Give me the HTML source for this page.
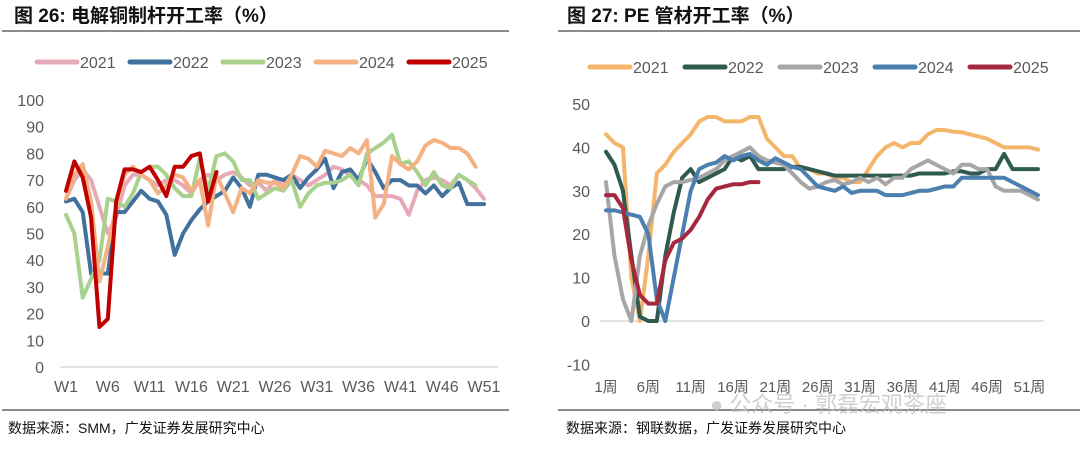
<!DOCTYPE html>
<html><head><meta charset="utf-8"><style>
body{margin:0;width:1080px;height:446px;background:#fff;overflow:hidden;font-family:"Liberation Sans","Noto Sans CJK SC",sans-serif}
svg text{font-family:"Liberation Sans","Noto Sans CJK SC",sans-serif}
</style></head><body>
<svg id="s" width="1080" height="446">
<text x="14" y="22" font-size="19" font-weight="bold" fill="#111">图 26:  电解铜制杆开工率（%）</text>
<line x1="2" y1="31" x2="509" y2="31" stroke="#444" stroke-width="1.2"/>
<text x="567" y="22" font-size="19" font-weight="bold" fill="#111">图 27:  PE 管材开工率（%）</text>
<line x1="558" y1="31" x2="1080" y2="31" stroke="#444" stroke-width="1.2"/>
<line x1="2" y1="410" x2="509" y2="410" stroke="#444" stroke-width="1.2"/>
<line x1="558" y1="410" x2="1080" y2="410" stroke="#444" stroke-width="1.2"/>
<text x="8" y="433" font-size="14" fill="#111">数据来源：SMM，广发证券发展研究中心</text>
<text x="566" y="433" font-size="14" fill="#111">数据来源：钢联数据，广发证券发展研究中心</text>
<text x="710" y="412" font-size="22" fill="#bbb" opacity="0.7">● 公众号 · 郭磊宏观茶座</text>
<g id="L"></g><g id="R"></g>
</svg>
<script>
const years=["2021","2022","2023","2024","2025"];
const leftCats=["W1","W6","W11","W16","W21","W26","W31","W36","W41","W46","W51"];
const leftTicks=[0,10,20,30,40,50,60,70,80,90,100];
const cu2021=[63,70,74,70,60,50,56,68,72,72,70,68,70,70,68,65,70,72,70,72,73,71,68,69,66,70,68,72,70,68,70,72,75,74,72,70,68,64,64,64,63,57,66,70,71,70,68,72,70,67,63];
const cu2022=[62,63,58,35,35,35,58,58,62,66,63,62,57,42,50,55,59,62,64,66,71,67,60,72,72,71,70,72,67,71,74,78,67,73,74,70,78,73,67,70,70,68,68,65,68,64,67,69,61,61,61];
const cu2023=[57,50,26,33,40,63,62,60,65,73,75,75,72,67,64,64,78,66,79,80,77,70,70,63,65,67,66,70,60,65,68,69,69,70,72,68,80,82,84,87,76,77,73,68,73,68,67,72,70,68];
const cu2024=[63,72,76,62,32,45,60,72,75,72,70,65,68,72,71,66,70,53,72,65,58,67,65,70,69,69,67,72,79,78,75,81,80,79,82,80,85,56,61,79,76,74,77,83,85,84,82,82,80,75];
const cu2025=[66,77,71,56,15,18,62,74,74,73,75,70,64,75,75,79,80,62,73];
const rightCats=["1周","6周","11周","16周","21周","26周","31周","36周","41周","46周","51周"];
const rightTicks=[-10,0,10,20,30,40,50];
const pe2021=[43,41,40,10,0,15,34,36,39,41,43,46,47,47,46,46,46,47,47,42,40,38,38,35,35,34,34,33,33,32,32,35,38,40,41,40,41,41,43,44,44,43.6,43.5,43,42.5,42,41,40,40,40,40,39.5];
const pe2022=[39,36,30,15,1,0,0,15,25,33,35,32,33,34,35,38,37,38,35,35,35,35,35.5,35.5,35,34.5,34,33.5,33.5,33.5,33.5,33.5,33.5,33.5,33.5,33.5,33.5,34,34,34,34,34.5,34.5,34,34,35,35,38.5,35,35,35,35];
const pe2023=[32,15,5,0,15,22,27,31,32,32,32.5,33,34,35,37,38,39,40,38,37,36.5,36,34,32,30.5,31,32,32.5,31.5,32,33,32,33,31.5,33,33,35,36,37,36,35,34,36,36,35,35,31,30,30,30,29,28];
const pe2024=[25.5,25.5,25,24.5,24,20,5,0,10,20,30,35,36,36.5,38,37,38,38.5,37,36,37.5,36.5,35.5,35,33,31,30.5,30,31,29.5,30,30,30,29,29,29,29.5,30,30,30.5,31,31,33,33,33,33,33,33,32,31,30,29];
const pe2025=[29,29,26,14,6,4,4,14,18,19,21,24,28,30.5,31,31.5,31.5,32,32];
const NS="http://www.w3.org/2000/svg";
function mk(p,t,a){const e=document.createElementNS(NS,t);for(const k in a)e.setAttribute(k,a[k]);p.appendChild(e);return e;}
function chart(g,cfg){
  const xs=i=>cfg.x0+i*cfg.dx, ys=v=>cfg.yz-(v)*cfg.ky;
  cfg.ticks.forEach(t=>{const e=mk(g,"text",{x:cfg.tx,y:ys(t)+6,"font-size":16,fill:"#595959","text-anchor":"end"});e.textContent=t;
    
    });
  mk(g,"line",{x1:cfg.x0-6,x2:cfg.x0+51*cfg.dx+6,y1:ys(0),y2:ys(0),stroke:"#d9d9d9","stroke-width":1.5});
  cfg.cats.forEach((c,i)=>{const e=mk(g,"text",{x:xs(i*5),y:cfg.labY,"font-size":cfg.cfs,fill:"#595959","text-anchor":"middle"});e.textContent=c;
    
    });
  cfg.series.forEach((s,k)=>{
    const pl=mk(g,"polyline",{points:s.map((v,i)=>xs(i)+","+ys(v)).join(" "),fill:"none",stroke:cfg.colors[k],"stroke-width":4,"stroke-linejoin":"round","stroke-linecap":"round"});
    
    
    const lx=cfg.lx+k*cfg.lstep;
    const sw=mk(g,"line",{x1:lx,x2:lx+40,y1:cfg.ly,y2:cfg.ly,stroke:cfg.colors[k],"stroke-width":5,"stroke-linecap":"round"});
    
    
    const t=mk(g,"text",{x:lx+43,y:cfg.ly+6,"font-size":16,fill:"#595959"});t.textContent=years[k];
    
    
  });
}
chart(document.getElementById("L"),{x0:66,dx:8.36,yz:367,ky:2.67,tx:44,ticks:leftTicks,cats:leftCats,labY:392,cfs:16,
 series:[cu2021,cu2022,cu2023,cu2024,cu2025],colors:["#e6a9b8","#41719c","#a9d18e","#f4b183","#c00000"],lx:37,lstep:93,ly:62});
chart(document.getElementById("R"),{x0:606,dx:8.47,yz:321,ky:4.34,tx:590,ticks:rightTicks,cats:rightCats,labY:392,cfs:15,
 series:[pe2021,pe2022,pe2023,pe2024,pe2025],colors:["#f4b66a","#2f5a4f","#a6a6a6","#4a7fb0","#a5283f"],lx:590,lstep:95,ly:67});
</script>
</body></html>
